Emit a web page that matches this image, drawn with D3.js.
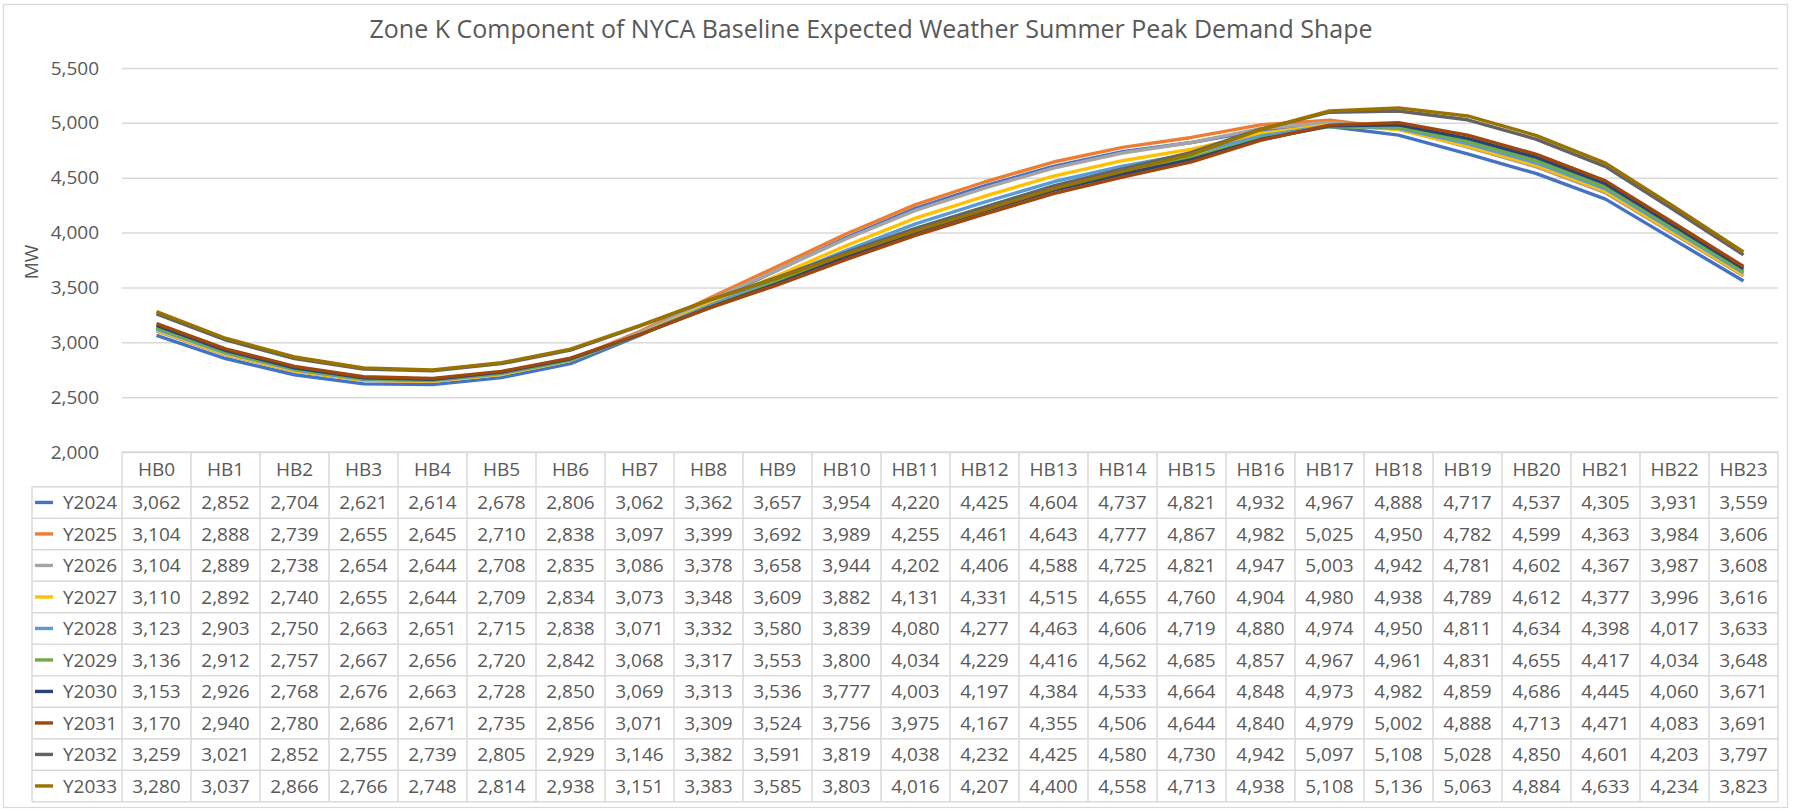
<!DOCTYPE html>
<html>
<head>
<meta charset="utf-8">
<script src="https://cdn.jsdelivr.net/npm/d3@7"></script>
<style>
  html, body { margin: 0; padding: 0; background: #fff; }
  svg { display: block; }
  text { font-family: "Open Sans", "Noto Sans", sans-serif; fill: #595959; }
</style>
</head>
<body>
<svg id="chart" width="1796" height="809"></svg>
<script>
// Hourly buckets (columns of the data table)
const hours = ["HB0","HB1","HB2","HB3","HB4","HB5","HB6","HB7","HB8","HB9","HB10","HB11",
               "HB12","HB13","HB14","HB15","HB16","HB17","HB18","HB19","HB20","HB21","HB22","HB23"];

// Forecast years
const years = ["Y2024","Y2025","Y2026","Y2027","Y2028","Y2029","Y2030","Y2031","Y2032","Y2033"];

// MW by hour, one array per year
const y2024 = [3062,2852,2704,2621,2614,2678,2806,3062,3362,3657,3954,4220,4425,4604,4737,4821,4932,4967,4888,4717,4537,4305,3931,3559];
const y2025 = [3104,2888,2739,2655,2645,2710,2838,3097,3399,3692,3989,4255,4461,4643,4777,4867,4982,5025,4950,4782,4599,4363,3984,3606];
const y2026 = [3104,2889,2738,2654,2644,2708,2835,3086,3378,3658,3944,4202,4406,4588,4725,4821,4947,5003,4942,4781,4602,4367,3987,3608];
const y2027 = [3110,2892,2740,2655,2644,2709,2834,3073,3348,3609,3882,4131,4331,4515,4655,4760,4904,4980,4938,4789,4612,4377,3996,3616];
const y2028 = [3123,2903,2750,2663,2651,2715,2838,3071,3332,3580,3839,4080,4277,4463,4606,4719,4880,4974,4950,4811,4634,4398,4017,3633];
const y2029 = [3136,2912,2757,2667,2656,2720,2842,3068,3317,3553,3800,4034,4229,4416,4562,4685,4857,4967,4961,4831,4655,4417,4034,3648];
const y2030 = [3153,2926,2768,2676,2663,2728,2850,3069,3313,3536,3777,4003,4197,4384,4533,4664,4848,4973,4982,4859,4686,4445,4060,3671];
const y2031 = [3170,2940,2780,2686,2671,2735,2856,3071,3309,3524,3756,3975,4167,4355,4506,4644,4840,4979,5002,4888,4713,4471,4083,3691];
const y2032 = [3259,3021,2852,2755,2739,2805,2929,3146,3382,3591,3819,4038,4232,4425,4580,4730,4942,5097,5108,5028,4850,4601,4203,3797];
const y2033 = [3280,3037,2866,2766,2748,2814,2938,3151,3383,3585,3803,4016,4207,4400,4558,4713,4938,5108,5136,5063,4884,4633,4234,3823];

const seriesValues = [y2024, y2025, y2026, y2027, y2028, y2029, y2030, y2031, y2032, y2033];
const seriesColors = ["#4472C4","#ED7D31","#A5A5A5","#FFC000","#5B9BD5","#70AD47","#264478","#9E480E","#636363","#997300"];

// Value axis ticks
const yTicks = [2000, 2500, 3000, 3500, 4000, 4500, 5000, 5500];

const chartTitle = "Zone K Component of NYCA Baseline Expected Weather Summer Peak Demand Shape";
const yTitle = "MW";

const series = years.map((name, i) => ({ name, values: seriesValues[i], color: seriesColors[i] }));

const svg = d3.select("#chart");
const W = 1796, H = 809;
const plot = { left: 122, right: 1778, top: 68, bottom: 452 };
const table = { legendLeft: 32, headerTop: 452, rowTop: 486.7, rowH: 31.5 };
const fmt = d3.format(",");
const gridColor = "#D9D9D9";

// Chart area frame
svg.append("rect")
  .attr("x", 3.5).attr("y", 4.5).attr("width", 1784).attr("height", 803)
  .attr("fill", "#fff").attr("stroke", gridColor).attr("stroke-width", 1.2);

const x = d3.scaleBand().domain(hours).range([plot.left, plot.right]).paddingInner(0).paddingOuter(0);
const y = d3.scaleLinear().domain([2000, 5500]).range([plot.bottom, plot.top]);
const cx = h => x(h) + x.bandwidth() / 2;

// Title
svg.append("text")
  .attr("x", 871).attr("y", 38)
  .attr("text-anchor", "middle")
  .style("font-size", "25px")
  .text(chartTitle);

// Horizontal gridlines and value labels
const yAxis = d3.axisLeft(y).tickValues(yTicks).tickFormat(fmt)
  .tickSize(-(plot.right - plot.left)).tickPadding(23);
const gy = svg.append("g").attr("transform", `translate(${plot.left},0)`).call(yAxis);
gy.select(".domain").remove();
gy.selectAll(".tick line").attr("stroke", gridColor).attr("stroke-width", 1.5);
gy.selectAll(".tick text")
  .style("font-size", "19px")
  .style("font-family", "'Open Sans', 'Noto Sans', sans-serif")
  .attr("fill", "#595959");

// Axis title
svg.append("text")
  .attr("transform", `translate(38, 262) rotate(-90)`)
  .attr("text-anchor", "middle")
  .style("font-size", "19px")
  .text(yTitle);

// Series lines
const line = d3.line()
  .x((d, i) => cx(hours[i]))
  .y(d => y(d));

svg.append("g").selectAll("path")
  .data(series)
  .join("path")
  .attr("d", d => line(d.values))
  .attr("fill", "none")
  .attr("stroke", d => d.color)
  .attr("stroke-width", 3.4)
  .attr("stroke-linejoin", "round");

// Data table
const tg = svg.append("g");
const tableBottom = table.rowTop + table.rowH * years.length;

// Header row lines
tg.append("line")
  .attr("x1", plot.left).attr("x2", plot.right)
  .attr("y1", table.headerTop).attr("y2", table.headerTop)
  .attr("stroke", gridColor).attr("stroke-width", 1.5);

// Row lines (span legend column too)
d3.range(years.length + 1).forEach(i => {
  const yy = table.rowTop + i * table.rowH;
  tg.append("line")
    .attr("x1", table.legendLeft).attr("x2", plot.right)
    .attr("y1", yy).attr("y2", yy)
    .attr("stroke", gridColor).attr("stroke-width", 1.5);
});

// Column lines
hours.concat(["end"]).forEach((h, i) => {
  const xx = plot.left + i * x.bandwidth();
  tg.append("line")
    .attr("x1", xx).attr("x2", xx)
    .attr("y1", table.headerTop).attr("y2", tableBottom)
    .attr("stroke", gridColor).attr("stroke-width", 1.5);
});
tg.append("line")
  .attr("x1", table.legendLeft).attr("x2", table.legendLeft)
  .attr("y1", table.rowTop).attr("y2", tableBottom)
  .attr("stroke", gridColor).attr("stroke-width", 1.5);

// Header labels
tg.selectAll("text.hdr")
  .data(hours)
  .join("text")
  .attr("class", "hdr")
  .attr("x", d => cx(d))
  .attr("y", (table.headerTop + table.rowTop) / 2)
  .attr("dy", "0.36em")
  .attr("text-anchor", "middle")
  .style("font-size", "19px")
  .text(d => d);

// Rows: legend key, series name, values
series.forEach((s, r) => {
  const ry = table.rowTop + r * table.rowH + table.rowH / 2;
  tg.append("line")
    .attr("x1", 35).attr("x2", 53)
    .attr("y1", ry).attr("y2", ry)
    .attr("stroke", s.color).attr("stroke-width", 3.4);
  tg.append("text")
    .attr("x", 117).attr("y", ry).attr("dy", "0.36em")
    .attr("text-anchor", "end")
    .style("font-size", "19px")
    .text(s.name);
  tg.selectAll(null)
    .data(s.values)
    .join("text")
    .attr("x", (d, i) => cx(hours[i]))
    .attr("y", ry).attr("dy", "0.36em")
    .attr("text-anchor", "middle")
    .style("font-size", "19px")
    .text(d => fmt(d));
});
</script>
</body>
</html>
